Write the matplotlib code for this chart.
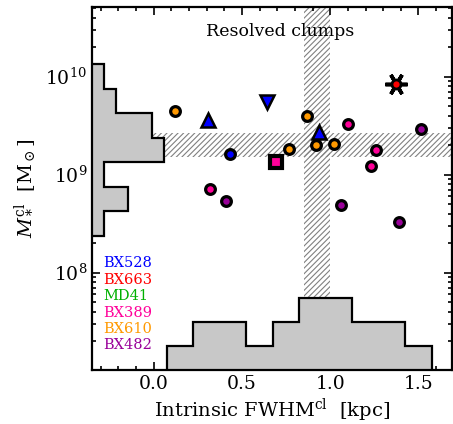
import numpy as np
import matplotlib
matplotlib.use("Agg")
import matplotlib.pyplot as plt

plt.rcParams['font.family'] = ['DejaVu Serif']
plt.rcParams['mathtext.fontset'] = 'dejavuserif'
plt.rcParams['hatch.linewidth'] = 0.8

# clump sizes (kpc) and log stellar masses, grouped by galaxy
bx528_fwhm = [0.430]
bx528_logm = [9.208]
bx528_tri_up_fwhm = [0.309, 0.939]
bx528_tri_up_logm = [9.558, 9.439]
bx528_tri_dn_fwhm = [0.639]
bx528_tri_dn_logm = [9.745]
bx663_fwhm = [1.373]
bx663_logm = [9.925]
bx389_fwhm = [1.101, 1.260, 1.231, 0.321]
bx389_logm = [9.514, 9.252, 9.092, 8.851]
bx389_sq_fwhm = [0.690]
bx389_sq_logm = [9.133]
bx610_fwhm = [0.119, 0.871, 0.769, 0.920, 1.020]
bx610_logm = [9.650, 9.599, 9.259, 9.300, 9.310]
bx482_fwhm = [1.512, 0.411, 1.061, 1.391]
bx482_logm = [9.463, 8.735, 8.694, 8.517]

names = ['BX528', 'BX663', 'MD41', 'BX389', 'BX610', 'BX482']
colors = ['#0000ff', '#ff0000', '#00b000', '#ff0099', '#ff9900', '#990099']

# resolution limits (hatched bands)
fwhm_band = (0.85, 1.0)
mass_band = (1.5e9, 2.65e9)

# histogram bins
mass_edges = np.arange(8.375, 10.2, 0.25)
size_edges = np.arange(0.075, 1.6, 0.15)

xlim = (-0.35, 1.69)
ylim = (10**7.007, 10**10.708)

fig = plt.figure(figsize=(4.53, 4.24), dpi=100)
ax = fig.add_axes([0.2031, 0.1274, 0.7947, 0.8554])
ax.set_xlim(xlim)
ax.set_yscale('log')
ax.set_ylim(ylim)

# hatched bands
ax.axvspan(*fwhm_band, facecolor='none', edgecolor='0.5', hatch='//////', linewidth=0, zorder=1)
ax.axhspan(*mass_band, facecolor='none', edgecolor='0.5', hatch='//////', linewidth=0, zorder=1)

all_fwhm = np.concatenate([bx528_fwhm, bx528_tri_up_fwhm, bx528_tri_dn_fwhm, bx663_fwhm,
                           bx389_fwhm, bx389_sq_fwhm, bx610_fwhm, bx482_fwhm])
all_logm = np.concatenate([bx528_logm, bx528_tri_up_logm, bx528_tri_dn_logm, bx663_logm,
                           bx389_logm, bx389_sq_logm, bx610_logm, bx482_logm])

# mass histogram along the left edge
mcounts, _ = np.histogram(all_logm, bins=mass_edges)
mvals = xlim[0] + mcounts * 0.068
ax.stairs(mvals, 10**mass_edges, orientation='horizontal', baseline=xlim[0],
          fill=True, color='#c8c8c8', zorder=2)
ax.stairs(mvals, 10**mass_edges, orientation='horizontal', baseline=xlim[0],
          color='k', linewidth=1.6, zorder=2.1)

# size histogram along the bottom
scounts, _ = np.histogram(all_fwhm, bins=size_edges)
svals = ylim[0] * 10**(scounts * 0.245)
ax.stairs(svals, size_edges, baseline=ylim[0], fill=True, color='#c8c8c8', zorder=2)
ax.stairs(svals, size_edges, baseline=ylim[0], color='k', linewidth=1.6, zorder=2.1)

circ = dict(marker='o', linestyle='none', markersize=7.0, markeredgewidth=2.3,
            markeredgecolor='k', zorder=5)
ax.plot(bx610_fwhm, 10**np.array(bx610_logm), markerfacecolor=colors[4], **circ)
ax.plot(bx389_fwhm, 10**np.array(bx389_logm), markerfacecolor=colors[3], **circ)
ax.plot(bx482_fwhm, 10**np.array(bx482_logm), markerfacecolor=colors[5], **circ)
ax.plot(bx528_fwhm, 10**np.array(bx528_logm), markerfacecolor=colors[0], **circ)

ax.plot(bx528_tri_up_fwhm, 10**np.array(bx528_tri_up_logm), marker='^', linestyle='none',
        markersize=10.5, markeredgewidth=1.8, markeredgecolor='k', markerfacecolor=colors[0], zorder=5)
ax.plot(bx528_tri_dn_fwhm, 10**np.array(bx528_tri_dn_logm), marker='v', linestyle='none',
        markersize=10.5, markeredgewidth=1.8, markeredgecolor='k', markerfacecolor=colors[0], zorder=5)
ax.plot(bx389_sq_fwhm, 10**np.array(bx389_sq_logm), marker='s', linestyle='none',
        markersize=9, markeredgewidth=3, markeredgecolor='k', markerfacecolor=colors[3], zorder=5)

# BX663: circle inside an asterisk
ax.plot(bx663_fwhm, 10**np.array(bx663_logm), marker=(6, 2, 90), linestyle='none',
        markersize=16, markeredgewidth=2.6, color='k', zorder=5)
ax.plot(bx663_fwhm, 10**np.array(bx663_logm), markerfacecolor=colors[1],
        **dict(circ, markersize=6.5, markeredgewidth=2.0, zorder=6))

# galaxy names
for i, (nm, c) in enumerate(zip(names, colors)):
    ax.text(0.031, 0.294 - i * 0.0452, nm, color=c, fontsize=10.5,
            transform=ax.transAxes, ha='left', va='center')

ax.text(0.522, 0.932, 'Resolved clumps', fontsize=12.5, transform=ax.transAxes,
        ha='center', va='center')

ax.set_xticks([0.0, 0.5, 1.0, 1.5])
ax.set_xticklabels(['0.0', '0.5', '1.0', '1.5'])
ax.xaxis.set_minor_locator(matplotlib.ticker.MultipleLocator(0.1))
ax.set_yticks([1e8, 1e9, 1e10])
ax.set_yticklabels([r'$10^{8}$', r'$10^{9}$', r'$10^{10}$'])
ax.tick_params(which='both', direction='in', top=True, right=True, width=1.2, labelsize=13.5)
ax.tick_params(which='major', length=6)
ax.tick_params(which='minor', length=3)
for s in ax.spines.values():
    s.set_linewidth(1.6)
    s.set_zorder(10)

ax.set_xlabel(r'Intrinsic FWHM$^{\rm cl}$  [kpc]', fontsize=14, labelpad=3)
ax.set_ylabel(r'$M_*^{\rm cl}$  [M$_\odot$]', fontsize=14, labelpad=6)

fig.savefig('out.png', dpi=100)
